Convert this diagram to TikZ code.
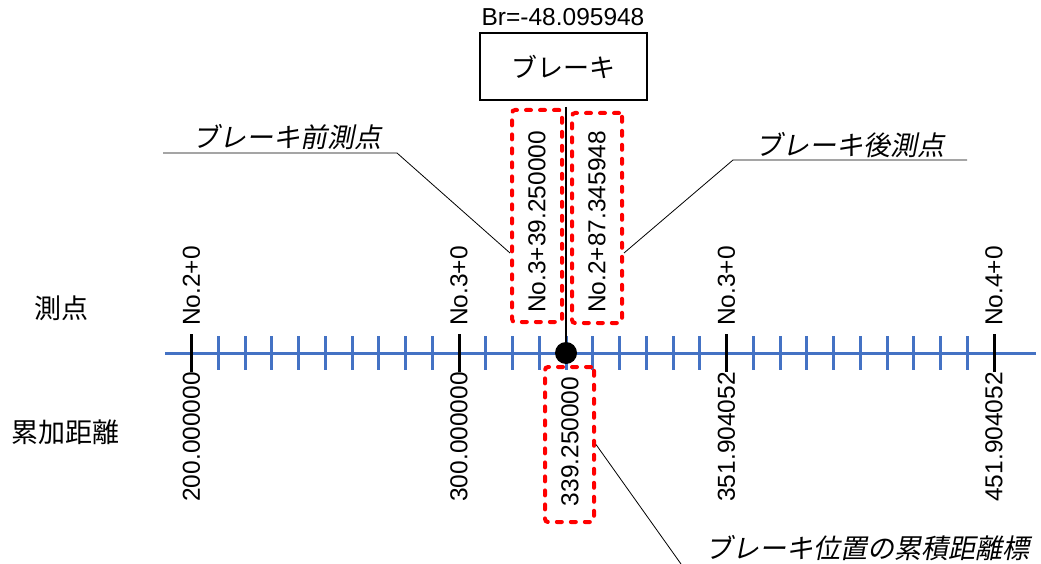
\documentclass[tikz,border=0pt]{standalone}
\usepackage{fontspec}
\setmainfont{Liberation Sans}
\newfontfamily\jp{Noto Sans CJK JP}
\newfontfamily\jpit[FakeSlant=0.2]{Noto Sans CJK JP}
\definecolor{axisblue}{HTML}{4472C4}
\begin{document}
\begin{tikzpicture}[x=1pt,y=-1pt,
  lat/.style={font=\fontsize{24.5}{28}\selectfont, inner sep=0pt},
  jpl/.style={font=\jp\fontsize{27}{30}\selectfont, inner sep=0pt},
  jpi/.style={font=\jpit\fontsize{27}{30}\selectfont, inner sep=0pt},
  redbox/.style={draw=red, line width=4pt, dash pattern=on 5pt off 9pt, line cap=round, rounded corners=3pt, inner sep=0pt},
  leader/.style={draw=black, line width=0.8pt},
  axisline/.style={draw=axisblue, line width=3pt},
  bluetick/.style={draw=axisblue, line width=3pt},
  majortick/.style={draw=black, line width=3pt},
  stem/.style={draw=black, line width=2.5pt}]
\useasboundingbox (0,0) rectangle (1041,564);

% axis
\coordinate (axL) at (165,353);
\coordinate (axR) at (1036,353);
\draw[axisline] (axL) -- (axR);
\foreach \k in {0,...,30}{
  \pgfmathsetmacro\xx{191.5+26.75*\k}
  \draw[bluetick] (\xx,336) -- (\xx,370);
}
\foreach \k in {0,10,20,30}{
  \pgfmathsetmacro\xx{191.5+26.75*\k}
  \draw[majortick] (\xx,334) -- (\xx,372);
}

% station labels
\node[lat, rotate=90, anchor=west] (s0) at (191.5,326) {No.2+0};
\node[lat, rotate=90, anchor=west] (s1) at (459,326) {No.3+0};
\node[lat, rotate=90, anchor=west] (s2) at (726.5,326) {No.3+0};
\node[lat, rotate=90, anchor=west] (s3) at (994,326) {No.4+0};
% cumulative distance labels
\node[lat, rotate=90, anchor=east] (d0) at (191.5,372) {200.000000};
\node[lat, rotate=90, anchor=east] (d1) at (459,372) {300.000000};
\node[lat, rotate=90, anchor=east] (d2) at (726.5,372) {351.904052};
\node[lat, rotate=90, anchor=east] (d3) at (994,372) {451.904052};

% left headers
\node[jpl] (h1) at (61,308) {測点};
\node[jpl] (h2) at (66,432) {累加距離};

% brake
\node[draw, line width=1.5pt, fill=white, minimum width=167pt, minimum height=67pt, jpl, font=\jp\fontsize{26}{30}\selectfont] (brake) at (563.5,66.5) {ブレーキ};
\node[lat] (br) at (563,17) {Br=-48.095948};
\coordinate (vtop) at (566,107);
\node[circle, fill=black, minimum size=22pt, inner sep=0pt] (dot) at (566,353) {};
\draw[stem] (vtop) -- (dot.center);

% red dashed boxes
\node[redbox, minimum width=50pt, minimum height=212pt] (b1) at (537,216) {};
\node[lat, rotate=90] (l1) at (537,222) {No.3+39.250000};
\node[redbox, minimum width=50pt, minimum height=210pt] (b2) at (597,218) {};
\node[lat, rotate=90] (l2) at (597,222) {No.2+87.345948};
\node[redbox, minimum width=49pt, minimum height=155pt] (b3) at (569.5,444.5) {};
\node[lat, rotate=90] (l3) at (570,441.5) {339.250000};

% leaders
\coordinate (u1a) at (163,153);
\coordinate (u1b) at (397,153);
\draw[leader] (u1a) -- (u1b) -- ([yshift=-37pt]b1.west);
\node[jpi] (c1) at (286.5,137) {ブレーキ前測点};

\coordinate (u2a) at (967,160);
\coordinate (u2b) at (733,160);
\draw[leader] (u2a) -- (u2b) -- ([yshift=-35pt]b2.east);
\node[jpi] (c2) at (850,145) {ブレーキ後測点};

\coordinate (u3) at (681,564);
\draw[leader] (b3.east) -- (u3);
\node[jpi] (c3) at (867,548) {ブレーキ位置の累積距離標};
\end{tikzpicture}
\end{document}
